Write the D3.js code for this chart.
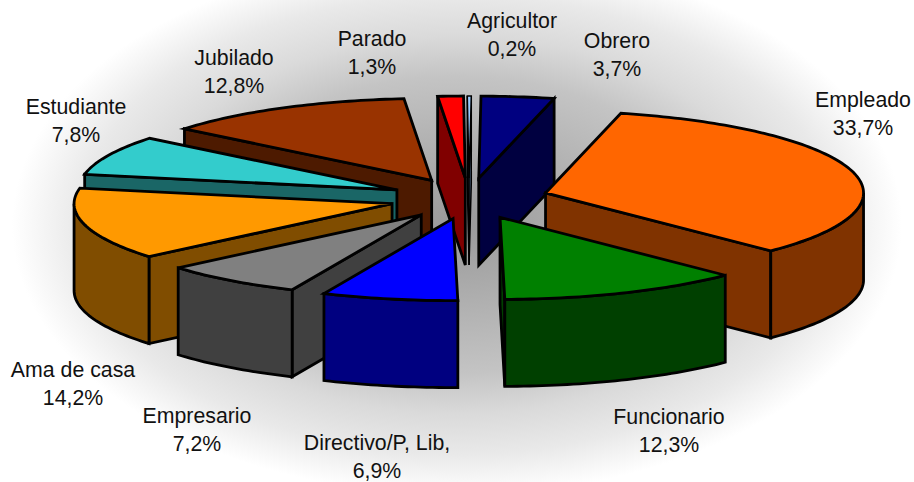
<!DOCTYPE html>
<html>
<head>
<meta charset="utf-8">
<script src="https://cdn.jsdelivr.net/npm/d3@7"></script>
<style>
  html, body { margin: 0; padding: 0; background: #fff; }
  svg { display: block; }
  text { font-family: "Liberation Sans", Arial, sans-serif; font-size: 21.3px; fill: #111; text-anchor: middle; }
</style>
</head>
<body>
<div id="d3-container"></div>
<script>
/**
 * CONSTANTS AND GLOBALS
 * */
const width = 914, height = 482;

const categories = ["Obrero", "Empleado", "Funcionario", "Directivo/P, Lib,", "Empresario",
  "Ama de casa", "Estudiante", "Jubilado", "Parado", "Agricultor"];
const values = [3.7, 33.7, 12.3, 6.9, 7.2, 14.2, 7.8, 12.8, 1.3, 0.2];
const valueLabels = ["3,7%", "33,7%", "12,3%", "6,9%", "7,2%", "14,2%", "7,8%", "12,8%", "1,3%", "0,2%"];

const topColors = ["#000080", "#FF6600", "#008000", "#0000FF", "#808080",
  "#FF9900", "#33CCCC", "#993300", "#FF0000", "#99CCFF"];
const sideColors = ["#000040", "#803300", "#004000", "#000080", "#404040",
  "#804D00", "#1A6666", "#4D1A00", "#800000", "#4D6680"];

// label centres, by hand from the picture (x, first baseline)
const labelPos = [[617, 48], [863, 107], [669, 424], [377, 450], [197, 423],
  [73, 377], [76, 114], [234, 65], [372, 46], [512, 28]];

// pie geometry
const cx = 469, cy = 198.5, rx = 318, ry = 82, depth = 87, explode = 0.25;
const x = d3.scaleLinear().domain([-1, 1]).range([cx - rx, cx + rx]);
const y = d3.scaleLinear().domain([-1, 1]).range([cy - ry, cy + ry]);

const svg = d3.select("#d3-container").append("svg")
  .attr("width", width)
  .attr("height", height);

/**
 * BACKGROUND - grey in the middle, fading to white at the edges
 * */
const bgStops = [[0, "#999999"], [0.55, "#c4c4c4"], [0.7, "#dadada"], [0.85, "#e9e9e9"], [1, "#ffffff"]];
const bg = svg.append("defs").append("radialGradient")
  .attr("id", "bg")
  .attr("gradientUnits", "userSpaceOnUse")
  .attr("cx", 0).attr("cy", 0).attr("r", 1)
  .attr("gradientTransform", "translate(457,225) scale(445,270)");
bgStops.forEach(st => bg.append("stop").attr("offset", st[0]).attr("stop-color", st[1]));
svg.append("rect").attr("width", width).attr("height", height).attr("fill", "url(#bg)");

/**
 * PIE
 * */
const pie = d3.pie().sort(null).startAngle(0.007).endAngle(2 * Math.PI + 0.007);
const slices = pie(values).map((d, i) => {
  const mid = (d.startAngle + d.endAngle) / 2;
  return { ...d, i, mid, ox: explode * Math.sin(mid), oy: -explode * Math.cos(mid) };
});

const line = d3.line();
const rim = (s, a) => [x(s.ox + Math.sin(a)), y(s.oy - Math.cos(a))];
const apex = s => [x(s.ox), y(s.oy)];
const down = p => [p[0], p[1] + depth];

function arcPoints(s, a0, a1) {
  const n = Math.max(2, Math.ceil((a1 - a0) / 0.02));
  return d3.range(n + 1).map(k => rim(s, a0 + (a1 - a0) * k / n));
}

// back to front
const order = slices.slice().sort((a, b) => d3.descending(Math.cos(a.mid), Math.cos(b.mid)));

order.forEach(s => {
  const g = svg.append("g")
    .attr("stroke", "#000")
    .attr("stroke-width", s.value < 1 ? 1.5 : 2.8) // the thin slice would be all outline otherwise
    .attr("stroke-linejoin", "miter");
  const side = sideColors[s.i];

  // radial walls that face the viewer
  [s.startAngle, s.endAngle].forEach((a, k) => {
    const facing = k === 0 ? Math.sin(a) < 0 : Math.sin(a) > 0;
    if (!facing) return;
    const p = rim(s, a), c = apex(s);
    g.append("path").attr("fill", side)
      .attr("d", line([c, p, down(p), down(c)]) + "Z");
  });

  // outer wall, front half of the ellipse only
  const a0 = Math.max(s.startAngle, Math.PI / 2), a1 = Math.min(s.endAngle, 3 * Math.PI / 2);
  if (a1 > a0) {
    const pts = arcPoints(s, a0, a1);
    g.append("path").attr("fill", side)
      .attr("d", line(pts.concat(pts.slice().reverse().map(down))) + "Z");
  }

  // top face
  g.append("path").attr("fill", topColors[s.i])
    .attr("d", line([apex(s)].concat(arcPoints(s, s.startAngle, s.endAngle))) + "Z");
});

/**
 * LABELS
 * */
const labels = svg.append("g").selectAll("text")
  .data(categories)
  .join("text")
  .attr("transform", (d, i) => `translate(${labelPos[i][0]},${labelPos[i][1]})`);
labels.append("tspan").attr("x", 0).attr("y", 0).text(d => d);
labels.append("tspan").attr("x", 0).attr("y", 27.5).text((d, i) => valueLabels[i]);
</script>
</body>
</html>
